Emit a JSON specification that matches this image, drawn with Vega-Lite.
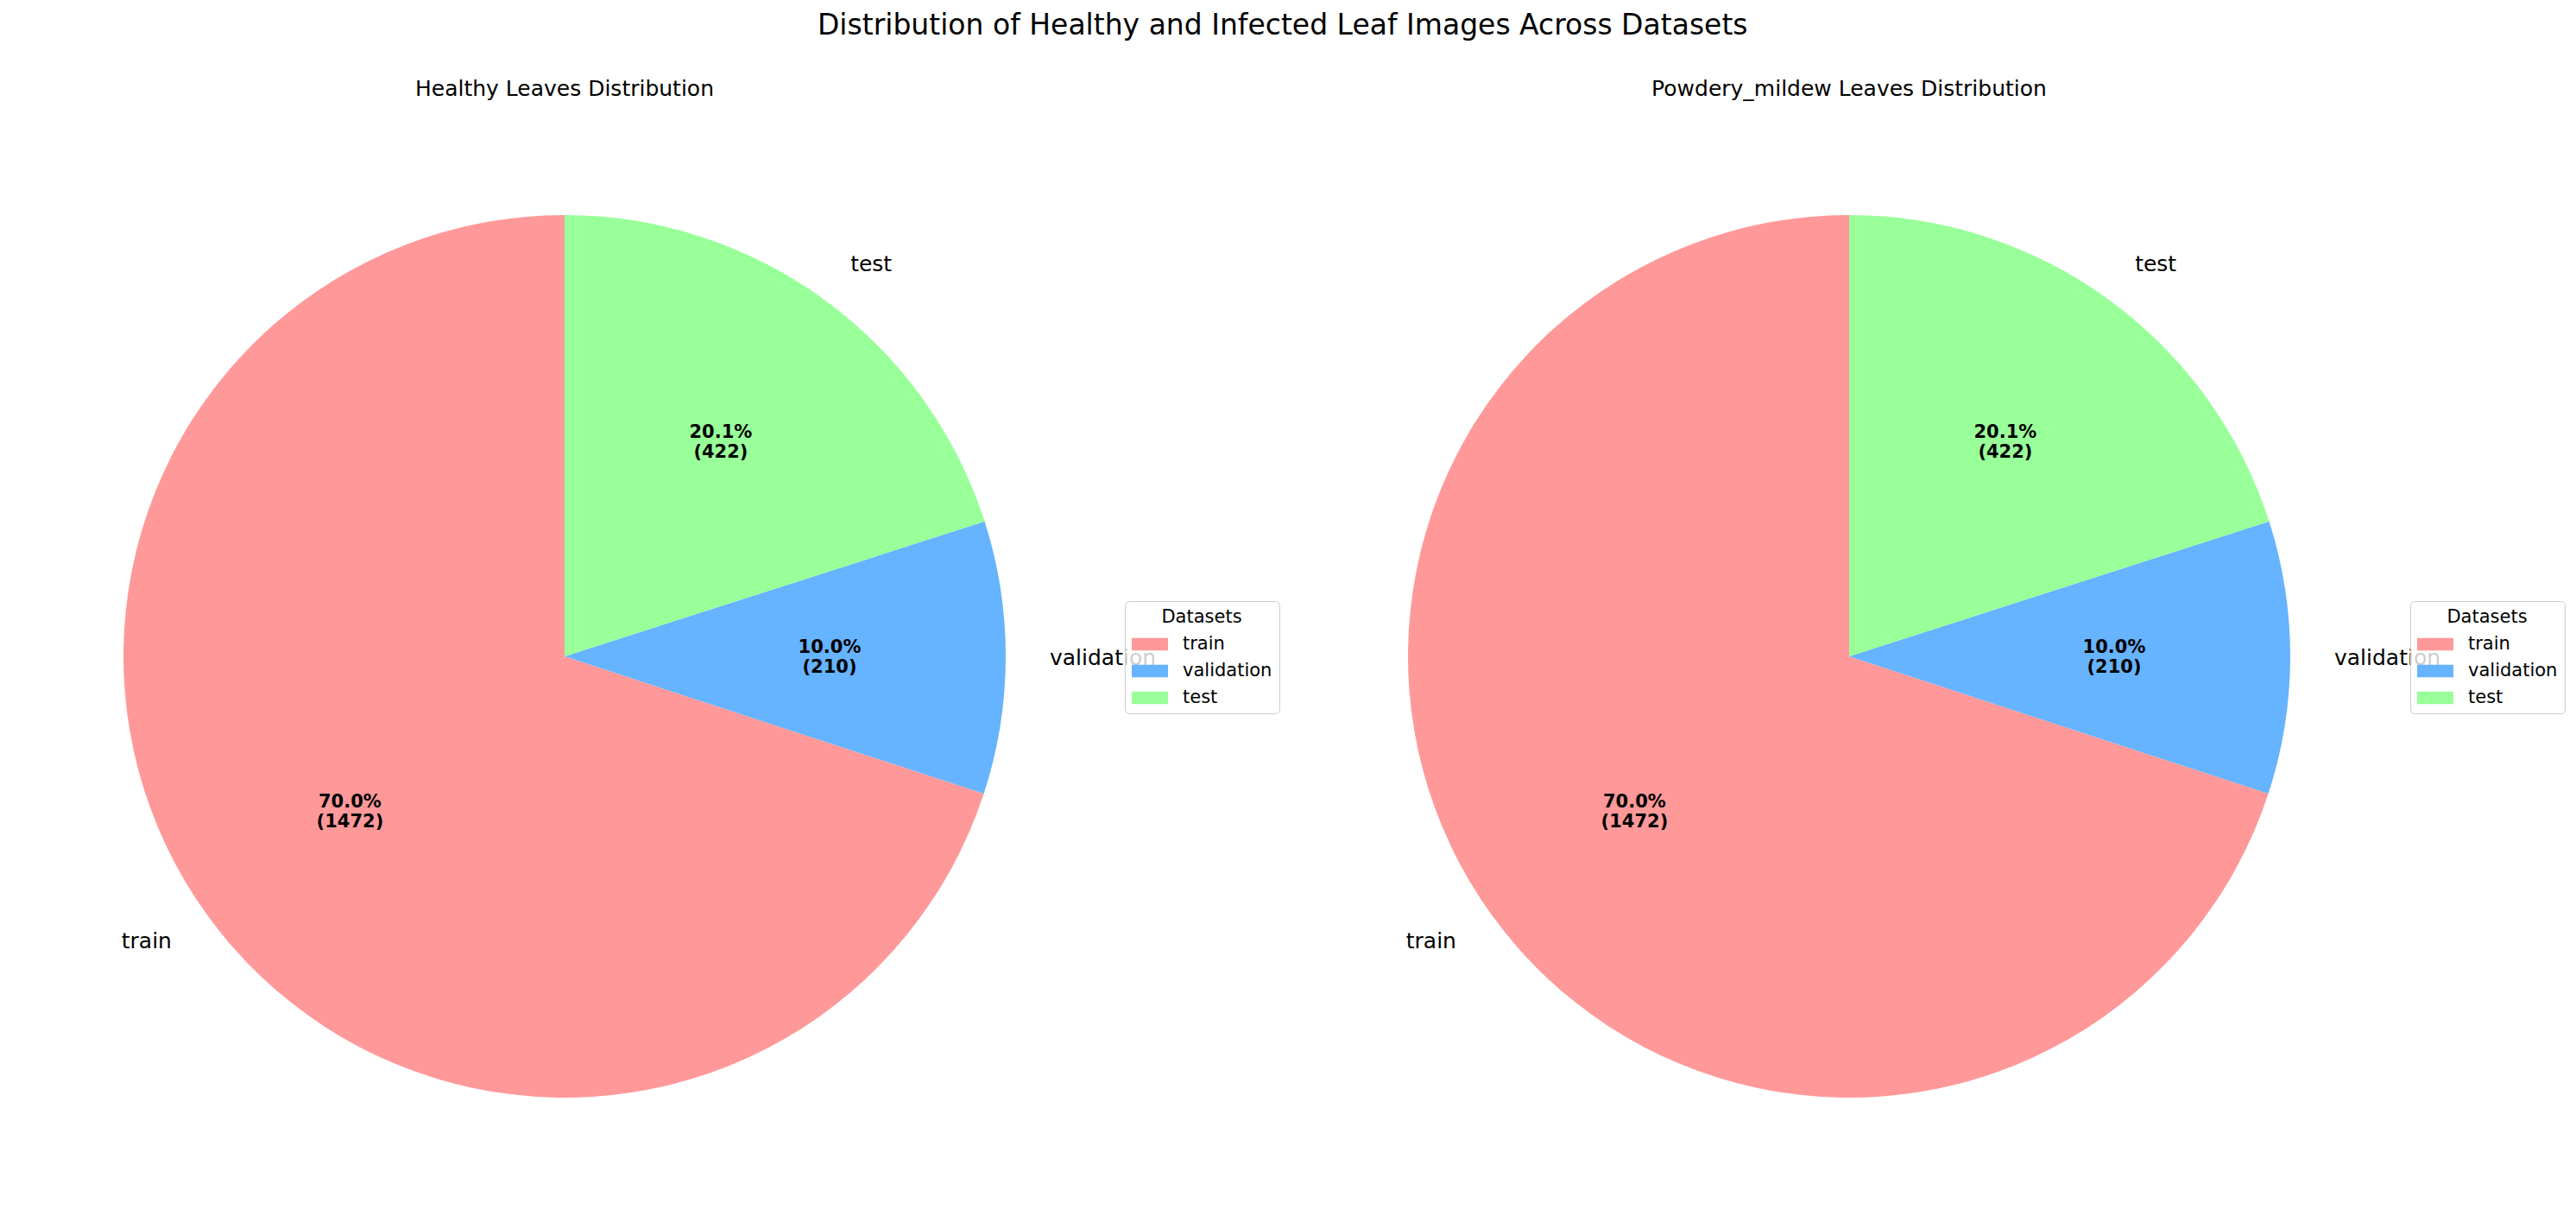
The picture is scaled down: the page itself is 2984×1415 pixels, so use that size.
{
  "$schema": "https://vega.github.io/schema/vega-lite/v6.json",
  "padding": {"top": 14, "left": 0, "right": 0, "bottom": 0},
  "background": "white",
  "bounds": "flush",
  "spacing": 180,
  "title": {
    "text": "Distribution of Healthy and Infected Leaf Images Across Datasets",
    "fontSize": 33,
    "fontWeight": "normal",
    "anchor": "middle",
    "color": "black",
    "baseline": "top",
    "offset": 44
  },
  "data": {
    "values": [
      {"panel": "Healthy", "dataset": "train", "count": 1472},
      {"panel": "Healthy", "dataset": "validation", "count": 210},
      {"panel": "Healthy", "dataset": "test", "count": 422},
      {"panel": "Powdery_mildew", "dataset": "train", "count": 1472},
      {"panel": "Powdery_mildew", "dataset": "validation", "count": 210},
      {"panel": "Powdery_mildew", "dataset": "test", "count": 422}
    ]
  },
  "transform": [
    {"joinaggregate": [{"op": "sum", "field": "count", "as": "total"}], "groupby": ["panel"]},
    {"calculate": "format(datum.count / datum.total, '.1%') + '\\n(' + datum.count + ')'", "as": "pct"},
    {"calculate": "indexof(['test', 'validation', 'train'], datum.dataset)", "as": "k"}
  ],
  "hconcat": [
    {
      "width": 1308,
      "height": 1022,
      "title": {"text": "Healthy Leaves Distribution", "fontSize": 25, "fontWeight": "normal", "anchor": "middle", "color": "black", "baseline": "alphabetic", "offset": 113},
      "transform": [{"filter": "datum.panel == 'Healthy'"}],
      "encoding": {
        "theta": {"field": "count", "type": "quantitative", "stack": true},
        "order": {"field": "k", "type": "quantitative"}
      },
      "layer": [
        {
          "mark": {"type": "arc"},
          "encoding": {
            "color": {
              "field": "dataset",
              "type": "nominal",
              "scale": {"domain": ["train", "validation", "test"], "range": ["#ff9999", "#66b3ff", "#99ff99"]},
              "legend": {"orient": "none", "legendX": 1303, "legendY": 447, "title": "Datasets"}
            }
          }
        },
        {
          "mark": {"type": "text", "radius": 307, "fontSize": 21, "fontWeight": "bold", "lineBreak": "\n", "lineHeight": 23, "baseline": "middle", "align": "center", "dy": -11},
          "encoding": {"text": {"field": "pct"}, "color": {"value": "black"}}
        },
        {
          "mark": {"type": "text", "radius": 562, "fontSize": 25, "baseline": "middle", "align": "right"},
          "encoding": {"text": {"condition": {"test": "datum.dataset == 'train'", "field": "dataset"}, "value": ""}, "color": {"value": "black"}}
        },
        {
          "mark": {"type": "text", "radius": 562, "fontSize": 25, "baseline": "middle", "align": "left"},
          "encoding": {"text": {"condition": {"test": "datum.dataset != 'train'", "field": "dataset"}, "value": ""}, "color": {"value": "black"}}
        }
      ]
    },
    {
      "width": 1308,
      "height": 1022,
      "title": {"text": "Powdery_mildew Leaves Distribution", "fontSize": 25, "fontWeight": "normal", "anchor": "middle", "color": "black", "baseline": "alphabetic", "offset": 113},
      "transform": [{"filter": "datum.panel == 'Powdery_mildew'"}],
      "encoding": {
        "theta": {"field": "count", "type": "quantitative", "stack": true},
        "order": {"field": "k", "type": "quantitative"}
      },
      "layer": [
        {
          "mark": {"type": "arc"},
          "encoding": {
            "color": {
              "field": "dataset",
              "type": "nominal",
              "scale": {"domain": ["train", "validation", "test"], "range": ["#ff9999", "#66b3ff", "#99ff99"]},
              "legend": {"orient": "none", "legendX": 1304, "legendY": 447, "title": "Datasets"}
            }
          }
        },
        {
          "mark": {"type": "text", "radius": 307, "fontSize": 21, "fontWeight": "bold", "lineBreak": "\n", "lineHeight": 23, "baseline": "middle", "align": "center", "dy": -11},
          "encoding": {"text": {"field": "pct"}, "color": {"value": "black"}}
        },
        {
          "mark": {"type": "text", "radius": 562, "fontSize": 25, "baseline": "middle", "align": "right"},
          "encoding": {"text": {"condition": {"test": "datum.dataset == 'train'", "field": "dataset"}, "value": ""}, "color": {"value": "black"}}
        },
        {
          "mark": {"type": "text", "radius": 562, "fontSize": 25, "baseline": "middle", "align": "left"},
          "encoding": {"text": {"condition": {"test": "datum.dataset != 'train'", "field": "dataset"}, "value": ""}, "color": {"value": "black"}}
        }
      ]
    }
  ],
  "resolve": {"scale": {"color": "independent"}, "legend": {"color": "independent"}},
  "config": {
    "font": "DejaVu Sans",
    "view": {"stroke": null},
    "legend": {
      "titleAnchor": "middle",
      "titleFontSize": 21,
      "titleFontWeight": "normal",
      "titleColor": "black",
      "titlePadding": 0,
      "labelFontSize": 21,
      "labelColor": "black",
      "labelOffset": 17,
      "symbolType": "M-1,-0.34H1V0.34H-1Z",
      "symbolSize": 1764,
      "symbolStrokeWidth": 0,
      "symbolOpacity": 1,
      "padding": 8,
      "rowPadding": -1,
      "strokeColor": "#cccccc",
      "fillColor": "rgba(255,255,255,0.8)",
      "cornerRadius": 5
    }
  }
}
